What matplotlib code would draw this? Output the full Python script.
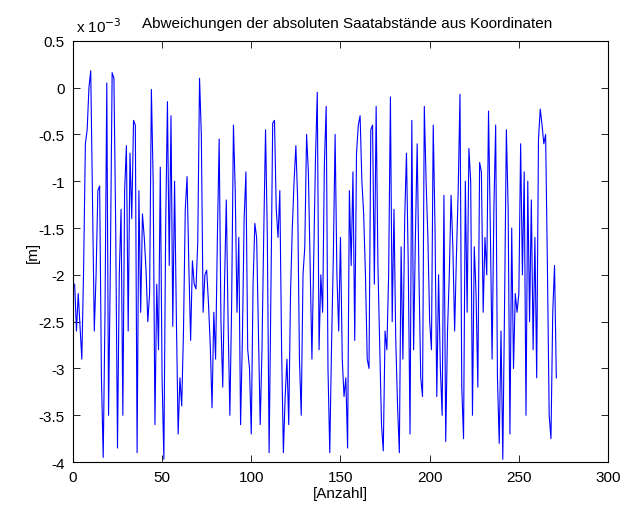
import matplotlib
matplotlib.use("Agg")
import matplotlib.pyplot as plt
import numpy as np

# Deviations of the absolute seed spacings (units of 1e-3 m), sample 1..N
abweichung = [
    # 1-26
    -2.1, -2.6, -2.2, -2.55, -2.9, -1.95, -0.6, -0.45, 0.0, 0.18,
    -1.2, -2.6, -2.0, -1.1, -1.05, -3.1, -3.95, -2.4, 0.05, -3.5,
    -1.9, 0.16, 0.1, -1.5, -3.85, -2.0,
    # 27-53
    -1.3, -3.5, -1.1, -0.62, -2.6, -0.7, -1.4, -0.35, -0.4, -3.9,
    -1.1, -2.4, -1.35, -1.6, -1.95, -2.5, -2.2, -0.02, -1.0, -3.6,
    -2.1, -2.8, -0.85, -3.1, -3.97, -1.5, -0.15,
    # 54-81
    -1.9, -0.3, -2.55, -1.0, -2.45, -3.7, -3.1, -3.4, -2.6, -1.3,
    -0.95, -1.9, -2.7, -1.85, -2.1, -2.15, -1.65, 0.1, -0.5, -2.4,
    -2.0, -1.95, -2.3, -2.75, -3.42, -2.4, -2.9, -1.6,
    # 82-107
    -0.55, -2.5, -3.2, -2.1, -1.2, -2.5, -3.5, -2.3, -0.4, -1.1,
    -2.4, -1.6, -3.6, -2.7, -1.4, -0.9, -2.8, -3.0, -3.7, -2.1,
    -1.45, -1.6, -2.6, -3.6, -2.8, -1.55,
    # 108-133
    -0.45, -1.6, -3.9, -2.2, -0.38, -0.35, -1.3, -1.6, -1.1, -2.8,
    -3.9, -3.3, -2.9, -3.6, -2.2, -1.5, -1.0, -0.62, -1.2, -2.9,
    -3.5, -2.0, -1.7, -0.5, -0.9, -1.9,
    # 134-161
    -2.9, -1.8, -0.75, -0.05, -2.8, -2.0, -2.4, -0.8, -0.2, -3.0,
    -3.9, -2.75, -1.8, -0.5, -2.0, -2.6, -1.6, -2.9, -3.3, -3.1,
    -3.85, -1.1, -1.9, -0.9, -2.7, -0.7, -0.4, -0.3,
    # 162-188
    -1.0, -1.35, -2.0, -2.9, -3.0, -0.45, -0.4, -2.1, -0.2, -1.9,
    -2.75, -3.6, -3.88, -2.6, -2.8, -2.0, -0.1, -2.5, -1.3, -2.7,
    -3.4, -3.9, -1.7, -2.9, -1.4, -0.7, -1.9,
    # 189-215
    -3.7, -0.35, -2.8, -1.6, -0.6, -2.0, -3.1, -3.3, -0.2, -1.0,
    -1.6, -2.5, -2.8, -0.4, -1.5, -3.3, -2.0, -3.0, -3.5, -1.15,
    -3.78, -2.6, -2.0, -1.15, -1.7, -2.6, -1.8,
    # 216-241
    -1.1, -0.07, -3.2, -3.75, -1.0, -2.4, -0.65, -1.0, -3.5, -1.7,
    -2.2, -3.2, -0.8, -0.9, -2.4, -1.6, -2.0, -0.25, -1.5, -2.9,
    -1.3, -0.4, -3.1, -3.8, -2.6, -3.97,
    # 242-271
    -2.3, -0.45, -1.3, -3.7, -1.5, -3.0, -2.2, -2.4, -2.2, -0.6,
    -2.0, -0.9, -3.5, -1.0, -2.5, -1.2, -2.8, -1.6, -3.1, -0.55,
    -0.23, -0.4, -0.6, -0.5, -1.9, -3.5, -3.75, -2.4, -1.9, -3.1,
]

x_ticks = [0, 50, 100, 150, 200, 250, 300]
y_ticks = [-4, -3.5, -3, -2.5, -2, -1.5, -1, -0.5, 0, 0.5]
y_ticklabels = ["-4", "-3.5", "-3", "-2.5", "-2", "-1.5", "-1", "-0.5", "0", "0.5"]

plt.rcParams["font.family"] = ["Liberation Sans", "DejaVu Sans"]
plt.rcParams["font.size"] = 11

fig = plt.figure(figsize=(6.23, 5.10), dpi=100)
ax = fig.add_axes([0.117, 0.092, 0.859, 0.826])

n = np.arange(1, len(abweichung) + 1)
ax.plot(n, abweichung, color=(0, 0, 1), linewidth=0.8)

ax.set_xlim(0, 300)
ax.set_ylim(-4, 0.5)
ax.set_xticks(x_ticks)
ax.set_yticks(y_ticks)
ax.set_yticklabels(y_ticklabels)
ax.tick_params(direction="in", top=True, right=True, length=5, width=0.6,
               labelsize=11, pad=6)
for s in ax.spines.values():
    s.set_linewidth(0.8)

ax.set_xlabel("[Anzahl]", fontsize=11, labelpad=1)
ax.set_ylabel("[m]", fontsize=11, labelpad=-1)
fig.text(0.557, 0.952, "Abweichungen der absoluten Saatabstände aus Koordinaten",
         fontsize=11, ha="center", va="center")
ax.text(0.005, 1.015, r"x 10$^{-3}$", transform=ax.transAxes,
        fontsize=11, ha="left", va="bottom")

fig.savefig("out.png", dpi=100, facecolor="white")
